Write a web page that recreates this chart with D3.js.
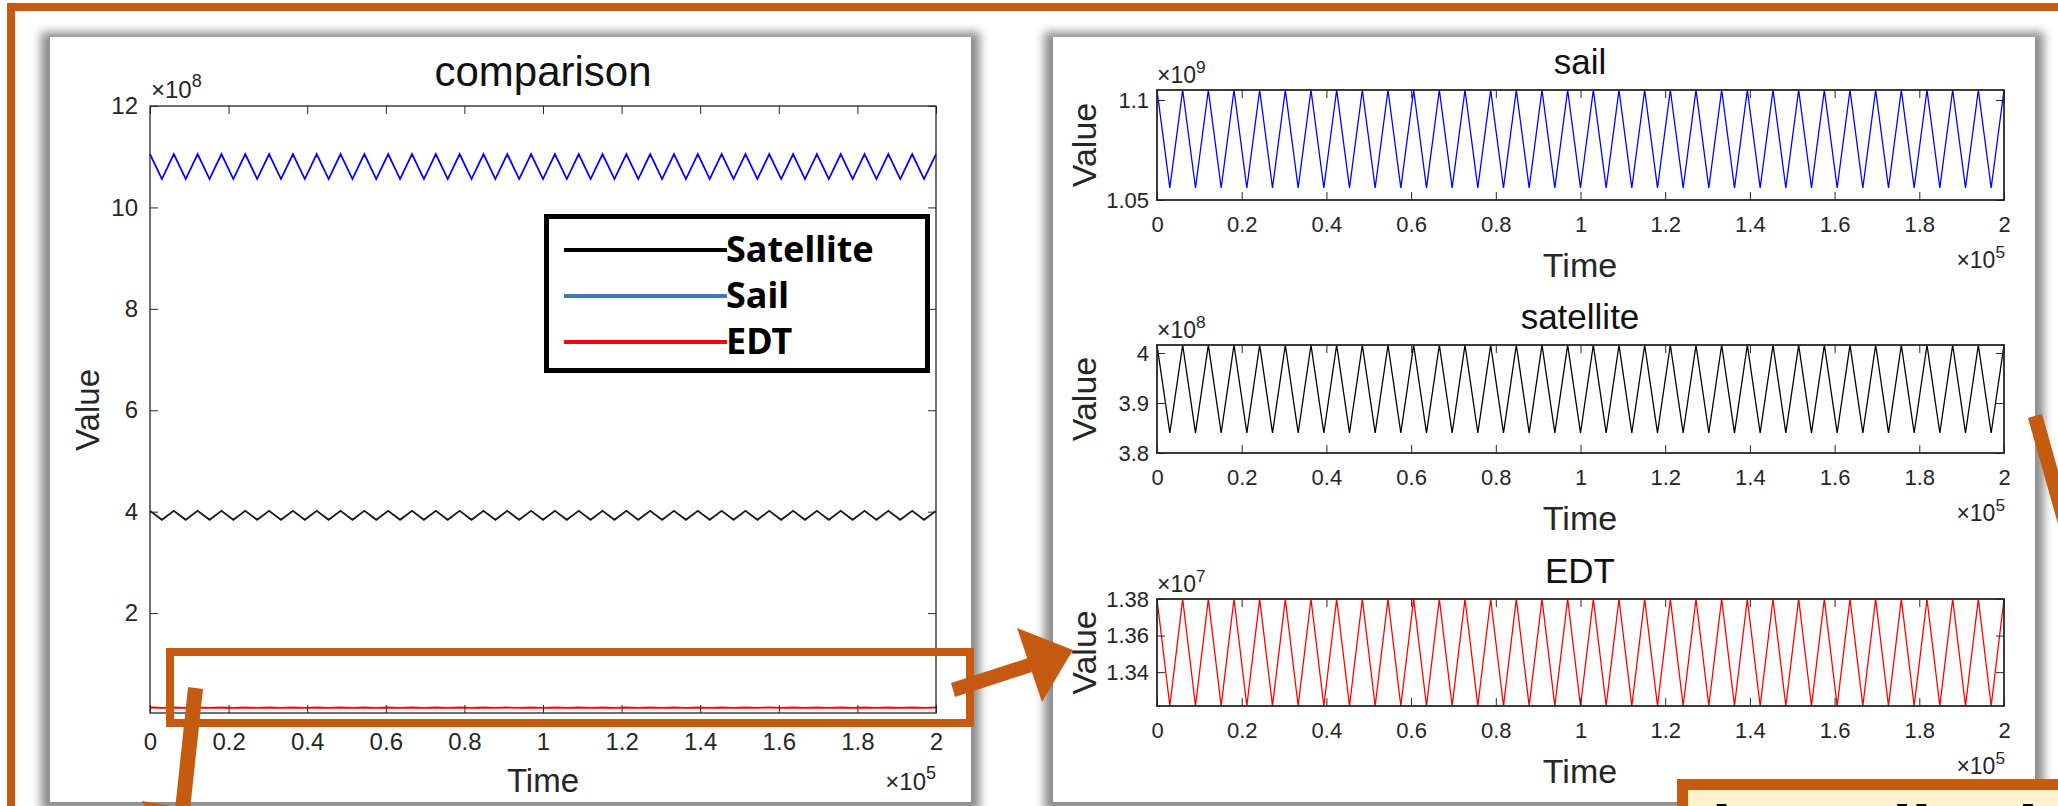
<!DOCTYPE html>
<html>
<head>
<meta charset="utf-8">
<script src="https://cdn.jsdelivr.net/npm/d3@7"></script>
<style>
    html, body { margin: 0; padding: 0; background: #fff; overflow: hidden; }
    svg { font-family: "Liberation Sans", Arial, sans-serif; }
</style>
</head>
<body>
<div id="chart"></div>
<script>
// sample times (turning points of the oscillation), in seconds
var times = [
    0, 3030, 6061, 9091, 12121, 15152, 18182, 21212, 24242, 27273,
    30303, 33333, 36364, 39394, 42424, 45455, 48485, 51515, 54545, 57576,
    60606, 63636, 66667, 69697, 72727, 75758, 78788, 81818, 84848, 87879,
    90909, 93939, 96970, 100000, 103030, 106061, 109091, 112121, 115152, 118182,
    121212, 124242, 127273, 130303, 133333, 136364, 139394, 142424, 145455, 148485,
    151515, 154545, 157576, 160606, 163636, 166667, 169697, 172727, 175758, 178788,
    181818, 184848, 187879, 190909, 193939, 196970, 200000
];

// sail, x1e9
var sailValues = [
    1.105, 1.056, 1.105, 1.056, 1.105, 1.056, 1.105, 1.056, 1.105, 1.056,
    1.105, 1.056, 1.105, 1.056, 1.105, 1.056, 1.105, 1.056, 1.105, 1.056,
    1.105, 1.056, 1.105, 1.056, 1.105, 1.056, 1.105, 1.056, 1.105, 1.056,
    1.105, 1.056, 1.105, 1.056, 1.105, 1.056, 1.105, 1.056, 1.105, 1.056,
    1.105, 1.056, 1.105, 1.056, 1.105, 1.056, 1.105, 1.056, 1.105, 1.056,
    1.105, 1.056, 1.105, 1.056, 1.105, 1.056, 1.105, 1.056, 1.105, 1.056,
    1.105, 1.056, 1.105, 1.056, 1.105, 1.056, 1.105
];

// satellite, x1e8
var satelliteValues = [
    4.016, 3.84, 4.016, 3.84, 4.016, 3.84, 4.016, 3.84, 4.016, 3.84,
    4.016, 3.84, 4.016, 3.84, 4.016, 3.84, 4.016, 3.84, 4.016, 3.84,
    4.016, 3.84, 4.016, 3.84, 4.016, 3.84, 4.016, 3.84, 4.016, 3.84,
    4.016, 3.84, 4.016, 3.84, 4.016, 3.84, 4.016, 3.84, 4.016, 3.84,
    4.016, 3.84, 4.016, 3.84, 4.016, 3.84, 4.016, 3.84, 4.016, 3.84,
    4.016, 3.84, 4.016, 3.84, 4.016, 3.84, 4.016, 3.84, 4.016, 3.84,
    4.016, 3.84, 4.016, 3.84, 4.016, 3.84, 4.016
];

// EDT, x1e7
var edtValues = [
    1.38, 1.3215, 1.38, 1.3215, 1.38, 1.3215, 1.38, 1.3215, 1.38, 1.3215,
    1.38, 1.3215, 1.38, 1.3215, 1.38, 1.3215, 1.38, 1.3215, 1.38, 1.3215,
    1.38, 1.3215, 1.38, 1.3215, 1.38, 1.3215, 1.38, 1.3215, 1.38, 1.3215,
    1.38, 1.3215, 1.38, 1.3215, 1.38, 1.3215, 1.38, 1.3215, 1.38, 1.3215,
    1.38, 1.3215, 1.38, 1.3215, 1.38, 1.3215, 1.38, 1.3215, 1.38, 1.3215,
    1.38, 1.3215, 1.38, 1.3215, 1.38, 1.3215, 1.38, 1.3215, 1.38, 1.3215,
    1.38, 1.3215, 1.38, 1.3215, 1.38, 1.3215, 1.38
];

var timeTicks = [0, 0.2, 0.4, 0.6, 0.8, 1, 1.2, 1.4, 1.6, 1.8, 2]; // x1e5
var comparisonTicks = [2, 4, 6, 8, 10, 12];                       // x1e8
var sailTicks = [1.05, 1.1];
var satelliteTicks = [3.8, 3.9, 4];
var edtTicks = [1.34, 1.36, 1.38];
var legendNames = ["Satellite", "Sail", "EDT"];

var ORANGE = "#c55a11", AXIS = "#262626";

var svg = d3.select("#chart").append("svg")
    .attr("width", 2058)
    .attr("height", 806);

// outer orange frame
svg.append("rect")
    .attr("x", 11).attr("y", 7)
    .attr("width", 2300).attr("height", 1000)
    .attr("fill", "none").attr("stroke", ORANGE).attr("stroke-width", 8);

var blur = svg.append("defs").append("filter").attr("id", "blur")
    .attr("x", "-10%").attr("y", "-10%").attr("width", "120%").attr("height", "120%");
blur.append("feGaussianBlur").attr("stdDeviation", 5);

// two white "pasted" panels with soft shadow
[{x: 50, y: 37, w: 921, h: 765}, {x: 1053, y: 37, w: 982, h: 765}].forEach(function(p) {
    svg.append("rect")
        .attr("x", p.x - 9).attr("y", p.y - 5)
        .attr("width", p.w + 18).attr("height", p.h + 14)
        .attr("fill", "#8c8c8c").attr("filter", "url(#blur)");
    svg.append("rect")
        .attr("x", p.x).attr("y", p.y)
        .attr("width", p.w).attr("height", p.h)
        .attr("fill", "#fff");
});

function series(values, factor) {
    return times.map(function(t, i) { return {t: t, v: values[i] * factor}; });
}

function styleAxis(g, size) {
    g.select(".domain").remove();
    g.attr("font-family", null).attr("font-size", null);
    g.selectAll("line").attr("stroke", AXIS);
    g.selectAll("text").attr("fill", AXIS).attr("font-size", size);
}

function exponent(x, y, power, size, anchor) {
    var t = svg.append("text")
        .attr("x", x).attr("y", y)
        .attr("text-anchor", anchor)
        .attr("fill", AXIS)
        .attr("font-size", size)
        .text("\u00d710");
    t.append("tspan").attr("dy", -size * 0.45).attr("font-size", size * 0.75).text(power);
}

// axes + box around a plot area
function drawFrame(x, y, box, xt, yt, fmtY, o) {
    var g = svg.append("g");
    g.append("g").attr("transform", "translate(0," + box.bottom + ")")
        .call(d3.axisBottom(x).tickValues(xt.map(function(d) { return d * 1e5; }))
            .tickFormat(function(d) { return d3.format("~g")(d / 1e5); })
            .tickSize(-o.tick).tickPadding(o.xPad))
        .call(styleAxis, o.font);
    g.append("g").attr("transform", "translate(0," + box.top + ")")
        .call(d3.axisTop(x).tickValues(xt.map(function(d) { return d * 1e5; }))
            .tickFormat("").tickSize(-o.tick))
        .call(styleAxis, o.font);
    g.append("g").attr("transform", "translate(" + box.left + ",0)")
        .call(d3.axisLeft(y).tickValues(yt).tickFormat(fmtY)
            .tickSize(-o.tick).tickPadding(o.yPad))
        .call(styleAxis, o.font);
    g.append("g").attr("transform", "translate(" + box.right + ",0)")
        .call(d3.axisRight(y).tickValues(yt).tickFormat("").tickSize(-o.tick))
        .call(styleAxis, o.font);
    g.append("rect")
        .attr("x", box.left).attr("y", box.top)
        .attr("width", box.right - box.left).attr("height", box.bottom - box.top)
        .attr("fill", "none").attr("stroke", AXIS).attr("stroke-width", o.stroke);
    return g;
}

// ---------------- comparison (left) ----------------
var cmp = {left: 150, right: 936, top: 106, bottom: 713};
var xc = d3.scaleLinear().domain([0, 2e5]).range([cmp.left, cmp.right]);
var yc = d3.scaleLinear().domain([0.03, 12]).range([cmp.bottom, cmp.top]);

var lineC = d3.line().x(function(d) { return xc(d.t); }).y(function(d) { return yc(d.v); });

var cmpSeries = [
    {data: series(sailValues, 10), color: "#0000ff"},
    {data: series(satelliteValues, 1), color: "#1a1a1a"},
    {data: series(edtValues, 0.1), color: "#ff0000"}
];
svg.append("g").selectAll("path")
    .data(cmpSeries)
    .enter().append("path")
    .attr("d", function(d) { return lineC(d.data); })
    .attr("fill", "none")
    .attr("stroke", function(d) { return d.color; })
    .attr("stroke-width", 1.8);

drawFrame(xc, yc, cmp, timeTicks, comparisonTicks, d3.format("~g"),
    {tick: 8, xPad: 20, yPad: 12, font: 24, stroke: 1.3});

svg.append("text").attr("x", 543).attr("y", 86).attr("text-anchor", "middle")
    .attr("font-size", 42).attr("fill", "#111").text("comparison");
svg.append("text").attr("x", 543).attr("y", 792).attr("text-anchor", "middle")
    .attr("font-size", 33).attr("fill", AXIS).text("Time");
svg.append("text").attr("transform", "translate(99,410) rotate(-90)").attr("text-anchor", "middle")
    .attr("font-size", 33).attr("fill", AXIS).text("Value");
exponent(151, 98, "8", 24, "start");
exponent(936, 790, "5", 24, "end");

// legend
var legend = svg.append("g");
legend.append("rect")
    .attr("x", 546.5).attr("y", 216.5).attr("width", 381).attr("height", 154)
    .attr("fill", "#fff").attr("stroke", "#000").attr("stroke-width", 5);
var legendColors = ["#000000", "#3878c2", "#ff0000"];
var legendY = d3.scalePoint().domain(legendNames).range([250, 342]);
legend.selectAll("line.key")
    .data(legendNames)
    .enter().append("line")
    .attr("x1", 564).attr("x2", 727)
    .attr("y1", function(d) { return legendY(d); })
    .attr("y2", function(d) { return legendY(d); })
    .attr("stroke", function(d, i) { return legendColors[i]; })
    .attr("stroke-width", 4);
legend.selectAll("text")
    .data(legendNames)
    .enter().append("text")
    .attr("x", 726)
    .attr("y", function(d) { return legendY(d) + 12; })
    .attr("font-family", "'Noto Sans', sans-serif")
    .attr("font-weight", "bold")
    .attr("font-size", 36)
    .attr("fill", "#000")
    .text(function(d) { return d; });

// ---------------- three subplots (right) ----------------
var subData = [
    {title: "sail", values: sailValues, color: "#0000ff", power: "9", domain: [1.05, 1.105], ticks: sailTicks},
    {title: "satellite", values: satelliteValues, color: "#000000", power: "8", domain: [3.8, 4.016], ticks: satelliteTicks},
    {title: "EDT", values: edtValues, color: "#ff0000", power: "7", domain: [1.3215, 1.38], ticks: edtTicks}
];
var subLayout = [{top: 90, bottom: 200}, {top: 345, bottom: 453}, {top: 599, bottom: 706}];

var xs = d3.scaleLinear().domain([0, 2e5]).range([1157, 2004]);

subData.forEach(function(s, i) {
    var box = {left: 1157, right: 2004, top: subLayout[i].top, bottom: subLayout[i].bottom};
    var ys = d3.scaleLinear().domain(s.domain).range([box.bottom, box.top]);
    var line = d3.line().x(function(d) { return xs(d.t); }).y(function(d) { return ys(d.v); });

    svg.append("path")
        .datum(series(s.values, 1))
        .attr("d", line)
        .attr("fill", "none")
        .attr("stroke", s.color)
        .attr("stroke-width", 1.3);

    drawFrame(xs, ys, box, timeTicks, s.ticks, d3.format("~g"),
        {tick: 8, xPad: 16, yPad: 8, font: 22, stroke: 1.8});

    svg.append("text").attr("x", 1580).attr("y", box.top - 16).attr("text-anchor", "middle")
        .attr("font-size", 35).attr("fill", "#111").text(s.title);
    svg.append("text").attr("x", 1580).attr("y", box.bottom + 77).attr("text-anchor", "middle")
        .attr("font-size", 34).attr("fill", AXIS).text("Time");
    svg.append("text")
        .attr("transform", "translate(1096," + (box.top + box.bottom) / 2 + ") rotate(-90)")
        .attr("text-anchor", "middle")
        .attr("font-size", 34).attr("fill", AXIS).text("Value");
    exponent(1157, box.top - 7, s.power, 23, "start");
    exponent(2005, box.bottom + 68, "5", 23, "end");
});

// ---------------- orange annotations ----------------
var notes = svg.append("g").attr("fill", ORANGE);

// highlight box on the zoomed band
notes.append("rect")
    .attr("x", 170).attr("y", 652).attr("width", 800).attr("height", 71)
    .attr("fill", "none").attr("stroke", ORANGE).attr("stroke-width", 8);

// arrow to the subplots
notes.append("polygon").attr("points", "951,683 1028,658 1032,672 955,697");
notes.append("polygon").attr("points", "1017,628 1073,650 1042,702");

// arrow going down from the band
notes.append("polygon").attr("points", "188,687 203,689 190,810 175,810");
notes.append("polygon").attr("points", "142,801 226,815 175,880");

// arrow on the right edge
notes.append("polygon").attr("points", "2028,418 2042,414 2072,520 2058,524");

// note box, bottom right (mostly outside the picture)
svg.append("rect")
    .attr("x", 1682.5).attr("y", 784.5).attr("width", 600).attr("height", 200)
    .attr("fill", "#fff2cc").attr("stroke", ORANGE).attr("stroke-width", 11);
svg.append("text")
    .attr("x", 1712).attr("y", 846)
    .attr("font-family", "'DejaVu Sans', sans-serif")
    .attr("font-weight", "bold")
    .attr("font-size", 56)
    .attr("fill", "#000")
    .text("l Amplitude of fluctuation");
</script>
</body>
</html>
